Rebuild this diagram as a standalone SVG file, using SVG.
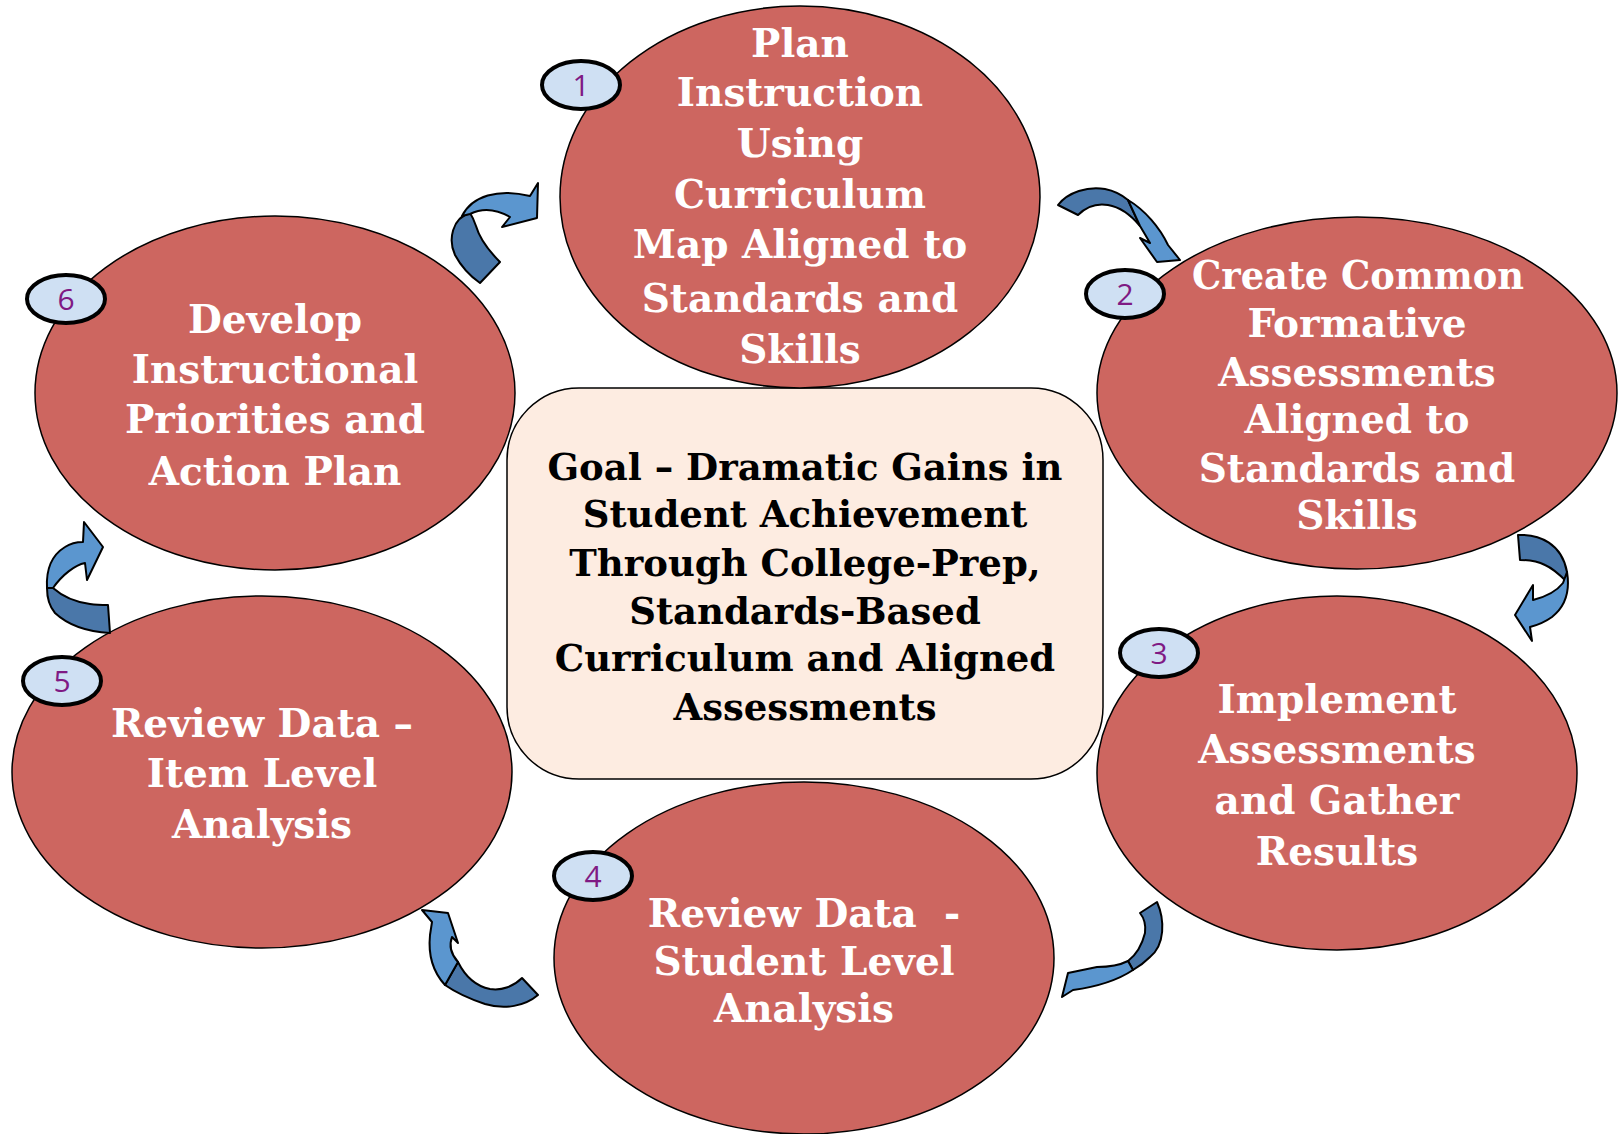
<svg xmlns="http://www.w3.org/2000/svg" width="1623" height="1134" viewBox="0 0 1623 1134">
<style>
.node{fill:#CD6660;stroke:#000;stroke-width:1.5}
.nt{font-family:"DejaVu Serif","Liberation Serif",serif;font-weight:bold;font-size:39px;fill:#fff;text-anchor:middle}
.ct{font-family:"DejaVu Serif","Liberation Serif",serif;font-weight:bold;font-size:37px;fill:#000;text-anchor:middle}
.badge{fill:#CFE0F3;stroke:#000;stroke-width:4}
.bt{font-family:"Open Sans","Liberation Sans",sans-serif;font-size:30px;fill:#7F1A84;text-anchor:middle}
.dk{fill:#4A77A9;stroke:#000;stroke-width:2;stroke-linejoin:round}
.lt{fill:#5B96CF;stroke:#000;stroke-width:2;stroke-linejoin:round}
</style>
<rect width="1623" height="1134" fill="#fff"/>

<g id="goal">
<rect x="507" y="388" width="596" height="391" rx="72" ry="72" fill="#FDECE1" stroke="#000" stroke-width="1.5"/>
<text class="ct" x="805" y="480">Goal – Dramatic Gains in</text>
<text class="ct" x="805" y="527">Student Achievement</text>
<text class="ct" x="805" y="576">Through College-Prep,</text>
<text class="ct" x="805" y="624">Standards-Based</text>
<text class="ct" x="805" y="671">Curriculum and Aligned</text>
<text class="ct" x="805" y="720">Assessments</text>
</g>

<g id="node1">
<ellipse class="node" cx="800" cy="197" rx="240" ry="191"/>
<text class="nt" x="800" y="57">Plan</text>
<text class="nt" x="800" y="106">Instruction</text>
<text class="nt" x="800" y="157">Using</text>
<text class="nt" x="800" y="208">Curriculum</text>
<text class="nt" x="800" y="258">Map Aligned to</text>
<text class="nt" x="800" y="312">Standards and</text>
<text class="nt" x="800" y="363">Skills</text>
<ellipse class="badge" cx="581" cy="85" rx="39" ry="24"/>
<text class="bt" x="581" y="96">1</text>
</g>

<g id="node2">
<ellipse class="node" cx="1357" cy="393" rx="260" ry="176"/>
<text class="nt" x="1358" y="289" textLength="332" lengthAdjust="spacingAndGlyphs">Create Common</text>
<text class="nt" x="1357" y="337">Formative</text>
<text class="nt" x="1357" y="386">Assessments</text>
<text class="nt" x="1357" y="433">Aligned to</text>
<text class="nt" x="1357" y="482">Standards and</text>
<text class="nt" x="1357" y="529">Skills</text>
<ellipse class="badge" cx="1125" cy="294" rx="39" ry="24"/>
<text class="bt" x="1125" y="305">2</text>
</g>

<g id="node3">
<ellipse class="node" cx="1337" cy="773" rx="240" ry="177"/>
<text class="nt" x="1337" y="713">Implement</text>
<text class="nt" x="1337" y="763">Assessments</text>
<text class="nt" x="1337" y="814">and Gather</text>
<text class="nt" x="1337" y="865">Results</text>
<ellipse class="badge" cx="1159" cy="653" rx="39" ry="24"/>
<text class="bt" x="1159" y="664">3</text>
</g>

<g id="node4">
<ellipse class="node" cx="804" cy="958" rx="250" ry="176"/>
<text class="nt" x="804" y="927" xml:space="preserve">Review Data  -</text>
<text class="nt" x="804" y="975">Student Level</text>
<text class="nt" x="804" y="1022">Analysis</text>
<ellipse class="badge" cx="593" cy="876" rx="39" ry="24"/>
<text class="bt" x="593" y="887">4</text>
</g>

<g id="node5">
<ellipse class="node" cx="262" cy="772" rx="250" ry="176"/>
<text class="nt" x="262" y="737">Review Data –</text>
<text class="nt" x="262" y="787">Item Level</text>
<text class="nt" x="262" y="838">Analysis</text>
<ellipse class="badge" cx="62" cy="681" rx="39" ry="24"/>
<text class="bt" x="62" y="692">5</text>
</g>

<g id="node6">
<ellipse class="node" cx="275" cy="393" rx="240" ry="177"/>
<text class="nt" x="275" y="333">Develop</text>
<text class="nt" x="275" y="383">Instructional</text>
<text class="nt" x="275" y="433">Priorities and</text>
<text class="nt" x="275" y="485">Action Plan</text>
<ellipse class="badge" cx="66" cy="299" rx="39" ry="24"/>
<text class="bt" x="66" y="310">6</text>
</g>

<g id="connectors">
<!-- 6 -> 1 -->
<path class="dk" d="M470,213 C452,218 448,240 455,255 C462,268 470,276 480,283 L500,262 C490,252 480,240 476,226 C474,220 472,216 470,213 Z"/>
<path class="lt" d="M462,216 C472,196 498,188 530,196 L538,183 L537,218 L502,227 L510,217 C496,209 482,208 470,214 Z"/>
<!-- 1 -> 2 -->
<path class="dk" d="M1058,205 C1068,192 1088,186 1105,189 C1115,191 1122,195 1128,200 L1140,226 C1130,214 1120,207 1108,205 C1096,203 1086,207 1078,215 Z"/>
<path class="lt" d="M1128,200 C1145,210 1160,228 1168,245 L1180,260 L1157,262 L1140,238 L1150,243 C1146,236 1143,231 1140,226 Z"/>
<!-- 2 -> 3 -->
<path class="dk" d="M1518,535 C1540,534 1562,544 1567,572 L1567,582 C1560,575 1552,568 1545,565 C1537,561 1528,560 1520,560 Z"/>
<path class="lt" d="M1567,572 C1570,590 1566,606 1552,617 C1545,622 1538,625 1530,627 L1532,641 L1515,615 L1533,585 L1533,600 C1545,597 1556,592 1563,583 Z"/>
<!-- 3 -> 4 -->
<path class="dk" d="M1157,902 C1165,920 1165,945 1150,957 C1145,962 1140,966 1133,970 L1128,961 C1136,955 1142,945 1145,933 C1146,925 1144,918 1140,913 Z"/>
<path class="lt" d="M1133,970 C1115,982 1095,987 1073,990 L1062,997 L1068,973 L1097,967 C1110,967 1120,965 1128,961 Z"/>
<!-- 4 -> 5 -->
<path class="dk" d="M538,995 C525,1006 505,1010 485,1004 C470,999 455,992 445,985 L458,962 C465,976 475,986 490,989 C502,991 514,986 522,978 Z"/>
<path class="lt" d="M445,985 C433,972 428,955 430,935 L432,922 L422,910 L448,913 L458,943 L452,937 C449,945 450,953 458,962 Z"/>
<!-- 5 -> 6 -->
<path class="dk" d="M110,633 C92,632 70,627 55,613 C49,606 47,597 47,588 L53,588 C62,596 75,602 90,604 C97,605 103,605 108,605 Z"/>
<path class="lt" d="M47,588 C46,570 52,555 65,547 C71,543 77,542 83,542 L84,522 L103,547 L87,580 L85,563 C75,565 62,575 53,588 Z"/>
</g>
</svg>
